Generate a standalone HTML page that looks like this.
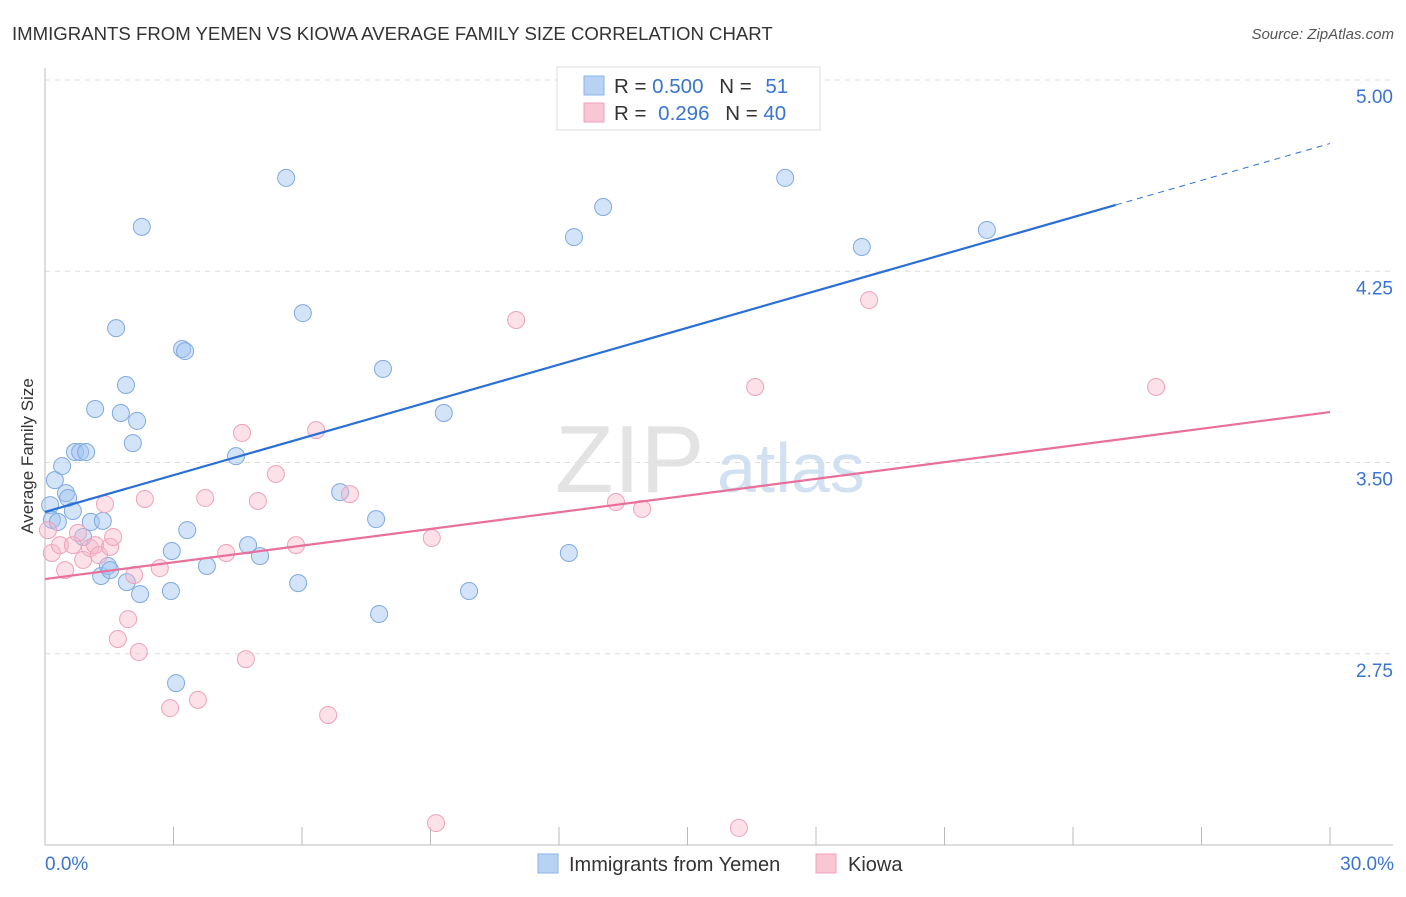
<!DOCTYPE html>
<html><head><meta charset="utf-8"><style>
body{margin:0;background:#fff;font-family:"Liberation Sans",sans-serif;}
svg text{font-family:"Liberation Sans",sans-serif;}
</style></head><body>
<svg id="chart" width="1406" height="892" xmlns="http://www.w3.org/2000/svg">
<text x="12" y="40" font-size="18.6" fill="#333">IMMIGRANTS FROM YEMEN VS KIOWA AVERAGE FAMILY SIZE CORRELATION CHART</text>
<text x="1394" y="39" font-size="15" fill="#555" text-anchor="end" font-style="italic">Source: ZipAtlas.com</text>
<text transform="translate(33,456) rotate(-90)" font-size="17" fill="#333" text-anchor="middle">Average Family Size</text>
<g id="grid"></g>
<g id="axes"></g>
<text x="555" y="492" font-size="96" fill="#ddd" font-family="Liberation Serif" opacity="0.8">ZIP</text>
<text x="717" y="492" font-size="70" fill="#c8daf0" opacity="0.8">atlas</text>
<g id="pts"></g>
<g id="lines"></g>
<g>
<rect x="557" y="67" width="263" height="63" fill="#fff" stroke="#ddd"/>
<rect x="584" y="76" width="20" height="19" fill="#b8d2f4" stroke="#8ab4e8"/>
<rect x="584" y="103" width="20" height="19" fill="#f9c6d4" stroke="#f0a0b8"/>
<text x="614" y="93" font-size="20.5" fill="#333">R = <tspan fill="#3a74d0">0.500</tspan>  <tspan dx="10">N = </tspan><tspan fill="#3a74d0" dx="8">51</tspan></text>
<text x="614" y="120" font-size="20.5" fill="#333">R = <tspan fill="#3a74d0" dx="6">0.296</tspan>  <tspan dx="10">N = </tspan><tspan fill="#3a74d0">40</tspan></text>
</g>
<g>
<rect x="538" y="854" width="20" height="19" fill="#b8d2f4" stroke="#8ab4e8"/>
<text x="569" y="871" font-size="20" fill="#333">Immigrants from Yemen</text>
<rect x="816" y="854" width="20" height="19" fill="#f9c6d4" stroke="#f0a0b8"/>
<text x="848" y="871" font-size="20" fill="#333">Kiowa</text>
</g>
</svg>
<script>
const yTicks=[5.00,4.25,3.50,2.75];
const yTickLabels=["5.00","4.25","3.50","2.75"];
const xTickLabels=["0.0%","30.0%"];
const blueX=[0.23,0.40,0.49,0.54,0.65,0.70,0.82,0.96,0.89,1.07,1.35,1.17,1.66,1.89,1.77,2.15,2.05,2.26,1.31,1.47,1.52,1.91,2.22,2.94,2.96,3.20,3.27,3.32,3.06,3.78,4.46,4.74,5.02,5.63,6.02,5.91,6.89,7.89,7.73,7.80,9.31,9.90,12.23,12.35,13.03,17.28,19.07,21.99,0.12,0.16,0.30];
const blueY=[3.431,3.486,3.380,3.361,3.310,3.541,3.541,3.541,3.208,3.267,3.271,3.710,4.027,3.804,3.694,3.663,3.576,4.424,3.055,3.094,3.078,3.031,2.984,2.996,3.153,3.945,3.937,3.235,2.635,3.094,3.525,3.176,3.133,4.616,4.086,3.027,3.384,3.867,3.278,2.906,3.694,2.996,3.145,4.384,4.502,4.616,4.345,4.412,3.333,3.275,3.267];
const pinkX=[0.16,0.35,0.47,0.65,0.77,0.89,1.05,1.17,1.26,1.40,1.52,1.59,1.70,1.94,2.08,2.19,2.33,2.68,2.92,3.57,3.74,4.23,4.60,4.69,4.97,5.39,5.86,6.33,6.61,7.12,9.03,9.13,11.00,13.33,13.94,16.20,16.58,19.24,25.94,0.07];
const pinkY=[3.145,3.176,3.078,3.176,3.224,3.118,3.165,3.176,3.137,3.337,3.169,3.208,2.808,2.886,3.059,2.757,3.357,3.086,2.537,2.569,3.361,3.145,3.616,2.729,3.349,3.455,3.176,3.627,2.510,3.376,3.204,2.086,4.059,3.345,3.318,2.067,3.796,4.137,3.796,3.235];
const blueTrend=[3.306,0.04816];
const pinkTrend=[3.043,0.02183];
const NS="http://www.w3.org/2000/svg";
const xs=v=>45+v/30*1285;
const ys=v=>80+(5-v)*255;
function mk(tag,attrs,parent){const e=document.createElementNS(NS,tag);for(const k in attrs)e.setAttribute(k,attrs[k]);parent.appendChild(e);return e;}
const grid=document.getElementById('grid'),axes=document.getElementById('axes');
yTicks.forEach((t,i)=>{
 const l=mk('line',{x1:45,x2:1393,y1:ys(t),y2:ys(t),stroke:'#ddd','stroke-dasharray':'5,5'},grid);
 
 
 const tx=mk('text',{x:1393,y:ys(t)+23,'font-size':19,fill:'#3a74d0','text-anchor':'end'},axes);
 tx.textContent=yTickLabels[i];
 
 
});
mk('line',{x1:45,x2:45,y1:68,y2:845,stroke:'#bbb'},axes);
mk('line',{x1:45,x2:1393,y1:845,y2:845,stroke:'#bbb'},axes);
for(let i=0;i<=10;i++){const x=xs(i*3);mk('line',{x1:x,x2:x,y1:827,y2:845,stroke:'#bbb'},axes);}
[[0,'start',45],[1,'end',1394]].forEach(([i,a,x])=>{
 const t=mk('text',{x:x,y:870,'font-size':19,fill:'#3a74d0','text-anchor':a},axes);
 t.textContent=xTickLabels[i];
 
 
});
const pts=document.getElementById('pts');
blueX.forEach((x,i)=>{
 const c=mk('circle',{cx:xs(x),cy:ys(blueY[i]),r:8.5,fill:'rgba(160,196,240,0.45)',stroke:'#7fa9e0','stroke-width':1},pts);
 
 
});
pinkX.forEach((x,i)=>{
 const c=mk('circle',{cx:xs(x),cy:ys(pinkY[i]),r:8.5,fill:'rgba(248,180,200,0.4)',stroke:'#eea2b9','stroke-width':1},pts);
 
 
});
const lines=document.getElementById('lines');
const bf=x=>blueTrend[0]+blueTrend[1]*x, pf=x=>pinkTrend[0]+pinkTrend[1]*x;
let l1=mk('line',{x1:xs(0),y1:ys(bf(0)),x2:xs(25),y2:ys(bf(25)),stroke:'#2a6fd6','stroke-width':2.2},lines);


let l2=mk('line',{x1:xs(25),y1:ys(bf(25)),x2:xs(30),y2:ys(bf(30)),stroke:'#2a6fd6','stroke-width':1,'stroke-dasharray':'6,5'},lines);


let l3=mk('line',{x1:xs(0),y1:ys(pf(0)),x2:xs(30),y2:ys(pf(30)),stroke:'#e8709a','stroke-width':2.2},lines);


</script>
</body></html>
